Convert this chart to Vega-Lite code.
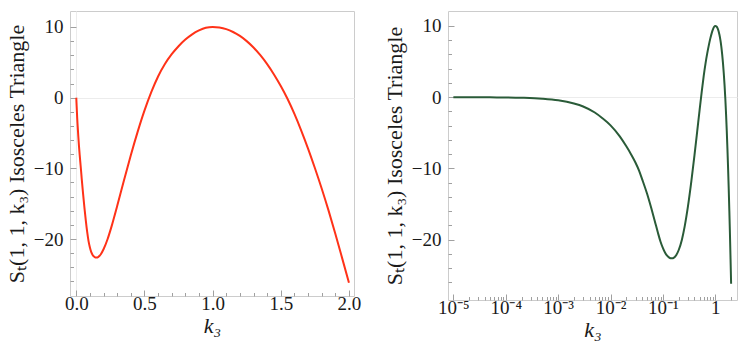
{
  "$schema": "https://vega.github.io/schema/vega-lite/v6.json",
  "padding": {"left": 4, "top": 10, "right": 5, "bottom": 5},
  "background": "white",
  "config": {
    "font": "Liberation Serif",
    "view": {"stroke": "#cccccc", "strokeWidth": 1},
    "axis": {
      "labelFont": "Liberation Serif", "labelFontSize": 19, "labelColor": "#1a1a1a",
      "titleFont": "Liberation Serif", "titleFontSize": 22, "titleFontWeight": "normal", "titleColor": "#1a1a1a",
      "domain": false, "tickColor": "#a0a0a0", "gridColor": "#ececec", "labelOverlap": false, "labelFlush": false
    }
  },
  "datasets": {
    "d": [
      {"k": 0, "v": 0},
      {"k": 0.00001, "v": -0.004},
      {"k": 0.00002, "v": -0.008},
      {"k": 0.00005, "v": -0.02},
      {"k": 0.0001, "v": -0.04},
      {"k": 0.0002, "v": -0.085},
      {"k": 0.0005, "v": -0.21},
      {"k": 0.001, "v": -0.43},
      {"k": 0.002, "v": -0.88},
      {"k": 0.003, "v": -1.3},
      {"k": 0.005, "v": -2.15},
      {"k": 0.007, "v": -2.95},
      {"k": 0.01, "v": -3.95},
      {"k": 0.015, "v": -5.5},
      {"k": 0.02, "v": -6.9},
      {"k": 0.025, "v": -8.1},
      {"k": 0.03, "v": -9.2},
      {"k": 0.035, "v": -10.3},
      {"k": 0.04, "v": -11.5},
      {"k": 0.05, "v": -13.6},
      {"k": 0.06, "v": -15.6},
      {"k": 0.07, "v": -17.4},
      {"k": 0.08, "v": -19.0},
      {"k": 0.09, "v": -20.3},
      {"k": 0.1, "v": -21.2},
      {"k": 0.11, "v": -21.85},
      {"k": 0.12, "v": -22.25},
      {"k": 0.13, "v": -22.48},
      {"k": 0.14, "v": -22.6},
      {"k": 0.15, "v": -22.62},
      {"k": 0.16, "v": -22.55},
      {"k": 0.18, "v": -22.15},
      {"k": 0.2, "v": -21.45},
      {"k": 0.23, "v": -20.0},
      {"k": 0.26, "v": -18.14},
      {"k": 0.3, "v": -15.34},
      {"k": 0.35, "v": -11.69},
      {"k": 0.4, "v": -8.14},
      {"k": 0.45, "v": -4.84},
      {"k": 0.5, "v": -1.84},
      {"k": 0.55, "v": 0.78},
      {"k": 0.6, "v": 3.0},
      {"k": 0.65, "v": 4.76},
      {"k": 0.7, "v": 6.15},
      {"k": 0.75, "v": 7.28},
      {"k": 0.8, "v": 8.22},
      {"k": 0.85, "v": 8.96},
      {"k": 0.9, "v": 9.51},
      {"k": 0.95, "v": 9.885},
      {"k": 1.0, "v": 10.0},
      {"k": 1.05, "v": 9.92},
      {"k": 1.1, "v": 9.69},
      {"k": 1.15, "v": 9.29},
      {"k": 1.2, "v": 8.73},
      {"k": 1.25, "v": 8.0},
      {"k": 1.3, "v": 7.1},
      {"k": 1.35, "v": 6.01},
      {"k": 1.4, "v": 4.75},
      {"k": 1.45, "v": 3.29},
      {"k": 1.5, "v": 1.65},
      {"k": 1.55, "v": -0.19},
      {"k": 1.6, "v": -2.3},
      {"k": 1.65, "v": -4.65},
      {"k": 1.7, "v": -7.2},
      {"k": 1.75, "v": -9.95},
      {"k": 1.8, "v": -12.85},
      {"k": 1.85, "v": -15.95},
      {"k": 1.9, "v": -19.25},
      {"k": 1.95, "v": -22.7},
      {"k": 2.0, "v": -26.2}
    ]
  },
  "spacing": 20,
  "hconcat": [
    {
      "width": 284, "height": 285,
      "data": {"name": "d"},
      "mark": {"type": "line", "color": "#ff3218", "strokeWidth": 2, "interpolate": "monotone", "clip": true},
      "encoding": {
        "x": {
          "field": "k", "type": "quantitative",
          "scale": {"domain": [-0.046, 2.037], "nice": false, "zero": false},
          "axis": {
            "title": "k₃", "titleFontStyle": "italic", "titlePadding": 0,
            "values": [0, 0.1, 0.2, 0.3, 0.4, 0.5, 0.6, 0.7, 0.8, 0.9, 1, 1.1, 1.2, 1.3, 1.4, 1.5, 1.6, 1.7, 1.8, 1.9, 2],
            "labelExpr": "abs(datum.value*2 - round(datum.value*2)) < 1e-6 ? format(datum.value, '.1f') : ''",
            "tickSize": {"condition": {"test": "abs(datum.value*2 - round(datum.value*2)) < 1e-6", "value": -6}, "value": -3.5},
            "labelPadding": 4,
            "grid": true,
            "gridOpacity": {"condition": {"test": "datum.value === 0", "value": 1}, "value": 0}
          }
        },
        "y": {
          "field": "v", "type": "quantitative",
          "scale": {"domain": [-28.06, 12.26], "nice": false, "zero": false},
          "axis": {
            "title": "Sₜ(1, 1, k₃) Isosceles Triangle", "titlePadding": 5,
            "values": [-26, -24, -22, -20, -18, -16, -14, -12, -10, -8, -6, -4, -2, 0, 2, 4, 6, 8, 10],
            "labelExpr": "datum.value % 10 === 0 ? format(datum.value, 'd') : ''",
            "tickSize": {"condition": {"test": "datum.value % 10 === 0", "value": -6}, "value": -3.5},
            "labelPadding": 13,
            "grid": true,
            "gridOpacity": {"condition": {"test": "datum.value === 0", "value": 1}, "value": 0}
          }
        }
      }
    },
    {
      "width": 289, "height": 289,
      "data": {"name": "d"},
      "transform": [{"filter": "datum.k > 0"}],
      "mark": {"type": "line", "color": "#2a5b38", "strokeWidth": 2, "interpolate": "monotone", "clip": true},
      "encoding": {
        "x": {
          "field": "k", "type": "quantitative",
          "scale": {"type": "log", "domain": [0.0000079, 2.59], "nice": false},
          "axis": {
            "title": "k₃", "titleFontStyle": "italic", "titlePadding": 0,
            "grid": false,
            "values": [0.00001, 0.00002, 0.00003, 0.00004, 0.00005, 0.00006, 0.00007, 0.00008, 0.00009,
                       0.0001, 0.0002, 0.0003, 0.0004, 0.0005, 0.0006, 0.0007, 0.0008, 0.0009,
                       0.001, 0.002, 0.003, 0.004, 0.005, 0.006, 0.007, 0.008, 0.009,
                       0.01, 0.02, 0.03, 0.04, 0.05, 0.06, 0.07, 0.08, 0.09,
                       0.1, 0.2, 0.3, 0.4, 0.5, 0.6, 0.7, 0.8, 0.9, 1, 2],
            "labelExpr": "datum.value == 0.00001 ? '10⁻⁵' : datum.value == 0.0001 ? '10⁻⁴' : datum.value == 0.001 ? '10⁻³' : datum.value == 0.01 ? '10⁻²' : datum.value == 0.1 ? '10⁻¹' : datum.value == 1 ? '1' : ''",
            "tickSize": {"condition": {"test": "indexof([0.00001, 0.0001, 0.001, 0.01, 0.1, 1], datum.value) >= 0", "value": -6}, "value": -3.5},
            "labelPadding": 4
          }
        },
        "y": {
          "field": "v", "type": "quantitative",
          "scale": {"domain": [-28.47, 12.1], "nice": false, "zero": false},
          "axis": {
            "title": "Sₜ(1, 1, k₃) Isosceles Triangle", "titlePadding": 5,
            "values": [-26, -24, -22, -20, -18, -16, -14, -12, -10, -8, -6, -4, -2, 0, 2, 4, 6, 8, 10],
            "labelExpr": "datum.value % 10 === 0 ? format(datum.value, 'd') : ''",
            "tickSize": {"condition": {"test": "datum.value % 10 === 0", "value": -6}, "value": -3.5},
            "labelPadding": 13,
            "grid": true,
            "gridOpacity": {"condition": {"test": "datum.value === 0", "value": 1}, "value": 0}
          }
        }
      }
    }
  ]
}
